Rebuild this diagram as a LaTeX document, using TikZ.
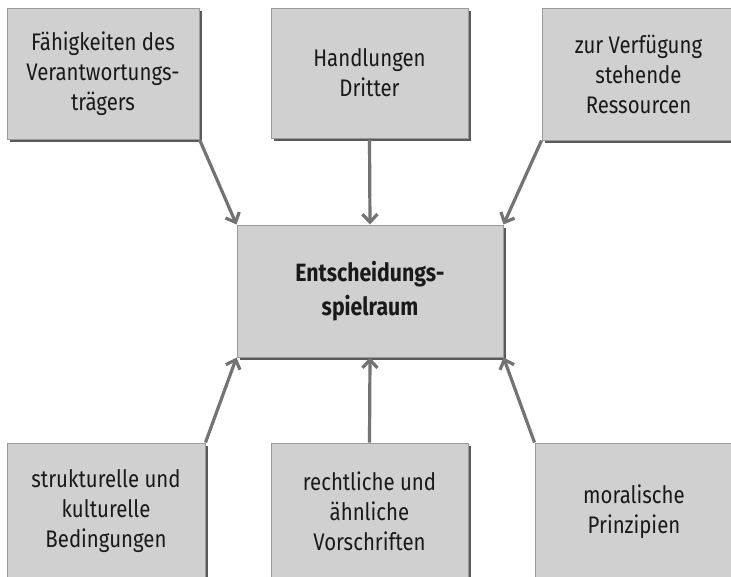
\documentclass[tikz,border=0pt]{standalone}
\usepackage{fontspec}
\setmainfont{Fira Sans}[FakeStretch=0.85]
\usetikzlibrary{arrows.meta,shadows}

\definecolor{boxfill}{HTML}{D0D0D0}
\definecolor{boxline}{HTML}{9A9A9A}
\definecolor{boxshade}{HTML}{5A5A5A}
\definecolor{arrowgray}{HTML}{737373}

\tikzset{
  factor/.style={
    rectangle, fill=boxfill, draw=boxline, line width=1pt,
    inner sep=0pt, align=center, text=black!90,
    font=\fontsize{24}{30}\selectfont,
    drop shadow={shadow xshift=3pt, shadow yshift=-3pt, fill=boxshade, opacity=1}
  },
  centrebox/.style={factor, font=\bfseries\fontsize{25}{34}\selectfont},
  influence/.style={draw=arrowgray, line width=3.2pt,
    -{Straight Barb[length=8pt,width=15pt,line width=3.2pt]}}
}

\begin{document}
\begin{tikzpicture}[x=1pt,y=-1pt]
  \useasboundingbox (0,0) rectangle (731,576);

  % central node
  \node[centrebox, minimum width=266pt, minimum height=132pt] (c) at (370,291)
    {Entscheidungs-\\spielraum};

  % upper row
  \node[factor, minimum width=192pt, minimum height=131pt] (tl) at (103,73.5)
    {Fähigkeiten des\\Verantwortungs-\\trägers};
  \node[factor, minimum width=197pt, minimum height=130pt] (tm) at (369.5,73)
    {Handlungen\\Dritter};
  \node[factor, minimum width=193pt, minimum height=132pt] (tr) at (638.5,74)
    {zur Verfügung\\stehende\\Ressourcen};

  % lower row
  \node[factor, minimum width=198pt, minimum height=137pt] (bl) at (106,511.5)
    {strukturelle und\\kulturelle\\Bedingungen};
  \node[factor, minimum width=197pt, minimum height=137pt] (bm) at (369.5,511.5)
    {rechtliche und\\ähnliche\\Vorschriften};
  \node[factor, minimum width=198pt, minimum height=137pt] (br) at (634,511.5)
    {moralische\\Prinzipien};

  % influences on the central node
  \draw[influence] (tl.south east) -- (c.north west);
  \draw[influence] (tm.south) -- (c.north);
  \draw[influence] (tr.south west) -- (c.north east);
  \draw[influence] (bl.north east) -- (c.south west);
  \draw[influence] (bm.north) -- (c.south);
  \draw[influence] (br.north west) -- (c.south east);
\end{tikzpicture}
\end{document}
